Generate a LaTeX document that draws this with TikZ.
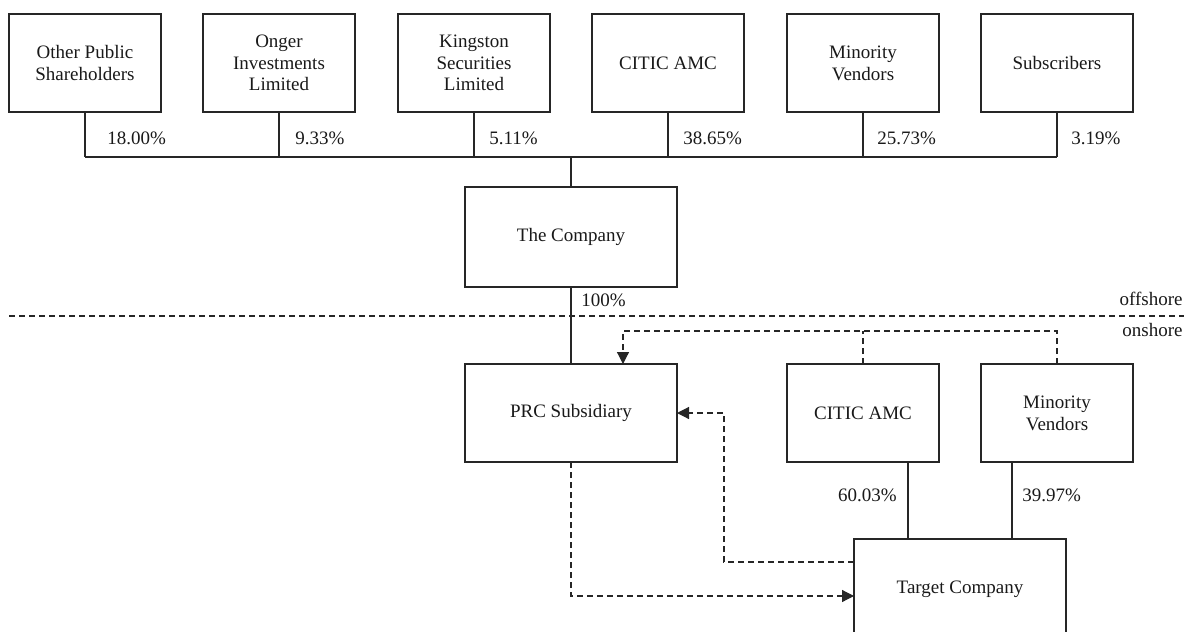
\documentclass[tikz,border=0pt]{standalone}
\usepackage{fontspec}
\setmainfont{Liberation Serif}
\usetikzlibrary{arrows.meta}
\begin{document}
\begin{tikzpicture}[x=0.5pt,y=-0.5pt,
  every node/.style={font=\fontsize{9.5}{10.9}\selectfont, text=black!90},
  box/.style={draw=black!85, line width=0.6pt, align=center, inner sep=0pt, outer sep=0pt, minimum width=76pt, minimum height=49pt},
  wbox/.style={box, minimum width=106pt, minimum height=50pt},
  conn/.style={draw=black!85, line width=0.6pt},
  dl/.style={draw=black!85, line width=0.6pt, dash pattern=on 3pt off 2pt},
  tip/.style={-{Triangle[length=6pt,width=6pt]}},
  pct/.style={inner sep=0pt}]
\useasboundingbox (0,0) rectangle (1184,632);
\begin{scope}
\clip (0,0) rectangle (1184,632);
% top boxes
\node[box] (t1) at (85,63) {Other Public\\Shareholders};
\node[box] (t2) at (279,63) {Onger\\Investments\\Limited};
\node[box] (t3) at (474,63) {Kingston\\Securities\\Limited};
\node[box] (t4) at (668,63) {CITIC AMC};
\node[box] (t5) at (863,63) {Minority\\Vendors};
\node[box] (t6) at (1057,63) {Subscribers};
\coordinate (bus) at (0,157);
\foreach \n in {t1,t2,t3,t4,t5,t6} \draw[conn] (\n.south) -- (\n.south |- bus);
\draw[conn] (t1.south |- bus) -- (t6.south |- bus);
% percentages
\node[pct,anchor=west] (p1) at (107,138) {18.00\%};
\node[pct,anchor=west] (p2) at (295,138) {9.33\%};
\node[pct,anchor=west] (p3) at (489,138) {5.11\%};
\node[pct,anchor=west] (p4) at (683,138) {38.65\%};
\node[pct,anchor=west] (p5) at (877,138) {25.73\%};
\node[pct,anchor=west] (p6) at (1071,138) {3.19\%};
% company
\node[wbox] (co) at (571,237) {The Company};
\draw[conn] (co.north |- bus) -- (co.north);
% offshore line
\coordinate (sl) at (9,316);
\coordinate (sr) at (1184,316);
\draw[dl] (sl) -- (sr);
\node[pct,anchor=west] (h) at (581,300) {100\%};
\node[pct,anchor=east] (off) at (1183,299) {offshore};
\node[pct,anchor=east] (on) at (1183,330) {onshore};
% lower boxes
\node[wbox, minimum height=49pt] (prc) at (571,413) {PRC Subsidiary};
\node[box] (c2) at (863,413) {CITIC AMC};
\node[box] (m2) at (1057,413) {Minority\\Vendors};
\node[wbox] (tg) at (960,589) {Target Company};
\draw[conn] (co.south) -- (prc.north);
% dashed top route
\coordinate (tl) at (623,331);
\draw[dl] (c2.north) -- (c2.north |- tl);
\draw[dl,tip] (m2.north) |- (tl) -- (tl |- prc.north);
% solid to target
\coordinate (a1) at (908,0);
\coordinate (a2) at (1012,0);
\draw[conn] (a1 |- c2.south) -- (a1 |- tg.north);
\draw[conn] (a2 |- m2.south) -- (a2 |- tg.north);
\node[pct,anchor=east] (q1) at (897,495) {60.03\%};
\node[pct,anchor=west] (q2) at (1022,495) {39.97\%};
% dashed arrows between PRC and target
\coordinate (r1) at (724,562);
\draw[dl,tip] (r1 -| tg.west) -- (r1) |- (prc.east);
\coordinate (r2) at (0,596);
\draw[dl,tip] (prc.south) |- (tg.west |- r2);
\end{scope}
\end{tikzpicture}
\end{document}
